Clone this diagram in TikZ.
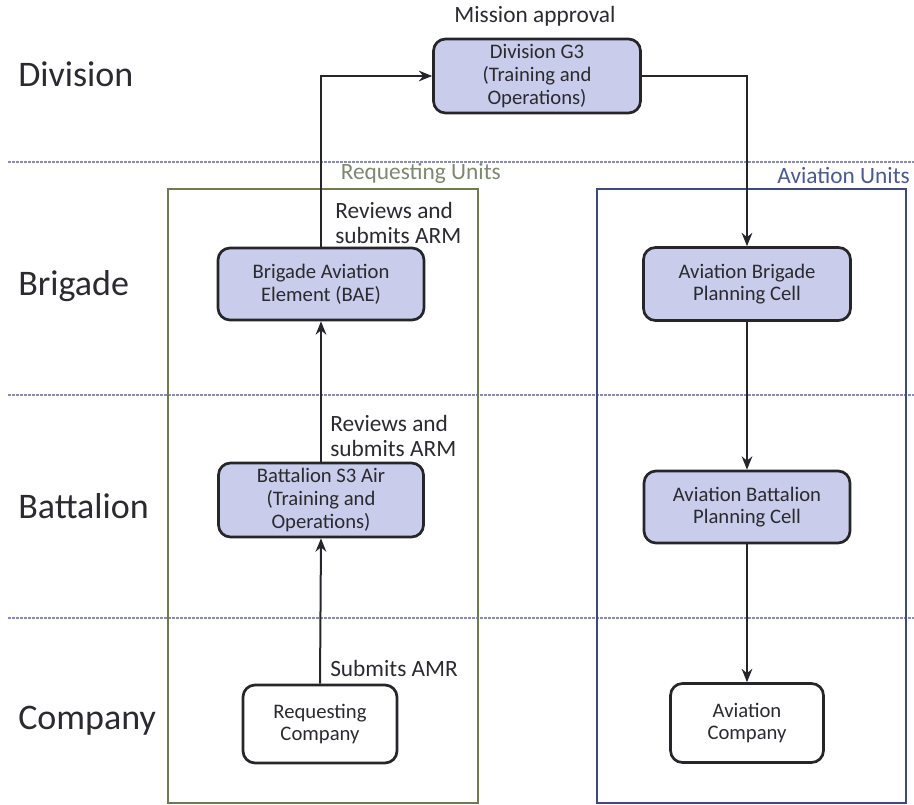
\documentclass[tikz,border=0pt]{standalone}
\usepackage{fontspec}
\setmainfont{Carlito}
\usetikzlibrary{arrows.meta}

\definecolor{boxfill}{HTML}{C9CCEA}
\definecolor{boxline}{HTML}{26262A}
\definecolor{reqline}{HTML}{6E7A50}
\definecolor{avline}{HTML}{3E4A7C}
\definecolor{sepline}{HTML}{8A8CB8}
\definecolor{reqtext}{HTML}{7C8870}
\definecolor{avtext}{HTML}{4A5A8E}
\definecolor{txt}{HTML}{2A2A30}

\tikzset{
  level/.style={anchor=west, font=\fontsize{27}{30}\selectfont, text=txt, inner sep=0pt},
  unitbox/.style={draw=boxline, line width=2pt, rounded corners=9pt, fill=boxfill,
    align=center, font=\fontsize{15.5}{17}\selectfont, text=txt, inner sep=0pt},
  plainbox/.style={unitbox, fill=white},
  steplabel/.style={anchor=south west, align=left, font=\fontsize{17.5}{18.5}\selectfont, text=txt, inner sep=0pt},
  flow/.style={draw=boxline, line width=1.5pt, -{Stealth[length=10pt,width=8pt]}},
  separator/.style={draw=sepline, line width=0.9pt, dash pattern=on 2pt off 1pt},
  group/.style={line width=1.4pt},
  grouplabel/.style={anchor=south east, font=\fontsize{17.5}{19}\selectfont, inner sep=0pt}
}

\begin{document}
\begin{tikzpicture}[x=0.75pt, y=-0.75pt]
  \useasboundingbox (0,0) rectangle (914,805);

  % level separators
  \draw[separator] (8,162) -- (914,162);
  \draw[separator] (8,395) -- (914,395);
  \draw[separator] (8,618) -- (914,618);

  % echelon names
  \node[level] (lvdiv) at (18,74) {Division};
  \node[level] (lvbde) at (18,286) {Brigade};
  \node[level] (lvbn)  at (18,506) {Battalion};
  \node[level] (lvco)  at (18,721) {Company};

  % groups of units
  \draw[group, draw=reqline] (168,189) rectangle (478,803);
  \draw[group, draw=avline] (597,189) rectangle (906,803);
  \node[grouplabel, text=reqtext] (reqlbl) at (501,184) {Requesting Units};
  \node[grouplabel, text=avtext] (avlbl) at (910,184) {Aviation Units};

  % units
  \node[unitbox, minimum width=207*0.75pt, minimum height=74*0.75pt] (g3) at (537,76)
    {Division G3\\(Training and\\Operations)};
  \node[unitbox, minimum width=206*0.75pt, minimum height=72*0.75pt] (bae) at (321,284)
    {Brigade Aviation\\Element (BAE)};
  \node[unitbox, minimum width=205*0.75pt, minimum height=74*0.75pt] (bs3) at (321,500)
    {Battalion S3 Air\\(Training and\\Operations)};
  \node[plainbox, minimum width=154*0.75pt, minimum height=78*0.75pt] (rc) at (320,724)
    {Requesting\\Company};
  \node[unitbox, minimum width=207*0.75pt, minimum height=73*0.75pt] (abpc) at (747,284)
    {Aviation Brigade\\Planning Cell};
  \node[unitbox, minimum width=206*0.75pt, minimum height=72*0.75pt] (abnpc) at (747,507)
    {Aviation Battalion\\Planning Cell};
  \node[plainbox, minimum width=153*0.75pt, minimum height=79*0.75pt] (ac) at (747,723)
    {Aviation\\Company};

  % step descriptions
  \node[anchor=south, font=\fontsize{17.5}{18.5}\selectfont, text=txt, inner sep=0pt] (appr) at (535,27) {Mission approval};
  \node[steplabel] (s1) at (335,244) {Reviews and\\submits ARM};
  \node[steplabel] (s2) at (330,457) {Reviews and\\submits ARM};
  \node[steplabel] (s3) at (330,677) {Submits AMR};

  % request flow
  \draw[flow] (rc.north) -- (bs3.south);
  \draw[flow] (bs3.north) -- (bae.south);
  \draw[flow] (bae.north) |- (g3.west);
  \draw[flow] (g3.east) -| (abpc.north);
  \draw[flow] (abpc.south) -- (abnpc.north);
  \draw[flow] (abnpc.south) -- (ac.north);
\end{tikzpicture}
\end{document}
